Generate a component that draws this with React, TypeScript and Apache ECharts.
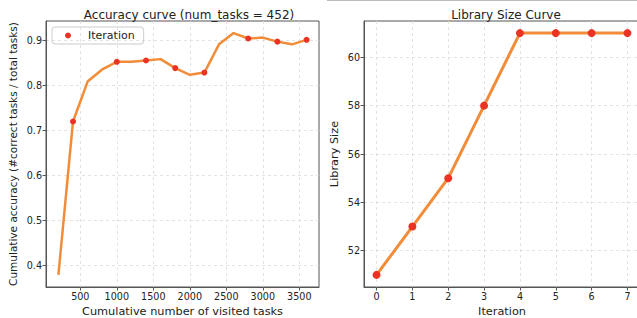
import React, { useEffect, useRef } from "react";
import * as echarts from "echarts";

const accX = [200, 400, 600, 800, 1000, 1200, 1400, 1600, 1800, 2000, 2200, 2400, 2600, 2800, 3000, 3200, 3400, 3600];
const accY = [0.378, 0.72, 0.809, 0.836, 0.853, 0.853, 0.856, 0.859, 0.839, 0.824, 0.829, 0.892, 0.917, 0.905, 0.907, 0.898, 0.892, 0.902];
const iterX = [400, 1000, 1400, 1800, 2200, 2800, 3200, 3600];
const iterY = [0.72, 0.853, 0.856, 0.839, 0.829, 0.905, 0.898, 0.902];
const accXTicks = [500, 1000, 1500, 2000, 2500, 3000, 3500];
const accYTicks = [0.4, 0.5, 0.6, 0.7, 0.8, 0.9];

const libIter = [0, 1, 2, 3, 4, 5, 6, 7];
const libSize = [51, 53, 55, 58, 61, 61, 61, 61];
const libYTicks = [52, 54, 56, 58, 60];

const FONT = "DejaVu Sans";
const LINE = "#f28c38";
const DOT = "#ea3323";
const SPINE = "#555";
const GRIDC = "#dcdcdc";

function axisCommon(ticks: number[], fmt?: (v: number) => string) {
  return {
    axisLine: { show: true, onZero: false, lineStyle: { color: SPINE, width: 1 } },
    axisTick: { show: true, customValues: ticks, length: 3.5, lineStyle: { color: SPINE } },
    axisLabel: {
      customValues: ticks,
      color: "#222",
      fontFamily: FONT,
      fontSize: 9.6,
      margin: 4,
      formatter: fmt,
    },
    splitLine: { show: true, lineStyle: { color: GRIDC, type: [3, 3], width: 0.8 } },
  };
}

export default function App() {
  const ref = useRef<HTMLDivElement>(null);
  useEffect(() => {
    document.body.style.margin = "0";
    const chart = echarts.init(ref.current!, null, { renderer: "svg" });
    chart.setOption({
      animation: false,
      backgroundColor: "#fff",
      title: [
        {
          text: "Accuracy curve (num_tasks = 452)",
          left: 184,
          top: 4,
          textAlign: "center",
          textStyle: { fontFamily: FONT, fontSize: 12, fontWeight: "normal", color: "#222" },
        },
        {
          text: "Library Size Curve",
          left: 501,
          top: 4,
          textAlign: "center",
          textStyle: { fontFamily: FONT, fontSize: 12, fontWeight: "normal", color: "#222" },
        },
      ],
      legend: {
        data: [{ name: "Iteration", icon: "circle" }],
        left: 52,
        top: 27,
        orient: "vertical",
        itemWidth: 6,
        itemHeight: 6,
        padding: [3, 9, 3, 13],
        borderColor: "#ccc",
        borderWidth: 1,
        borderRadius: 3,
        textStyle: { fontFamily: FONT, fontSize: 11, color: "#222", padding: [0, 0, 0, 12] },
      },
      grid: [
        { left: 46, top: 21, width: 273, height: 266, show: true, borderColor: SPINE, borderWidth: 1, outerBoundsMode: "none", containLabel: false },
        { left: 364, top: 21, width: 276, height: 266, show: true, borderColor: SPINE, borderWidth: 1, outerBoundsMode: "none", containLabel: false },
      ],
      xAxis: [
        {
          type: "value",
          gridIndex: 0,
          min: 30,
          max: 3770,
          name: "Cumulative number of visited tasks",
          nameLocation: "middle",
          nameGap: 16,
          nameTextStyle: { fontFamily: FONT, fontSize: 11.3, color: "#222", verticalAlign: "top" },
          ...axisCommon(accXTicks, (v: number) => String(v)),
        },
        {
          type: "value",
          gridIndex: 1,
          min: -0.35,
          max: 7.35,
          name: "Iteration",
          nameLocation: "middle",
          nameGap: 16,
          nameTextStyle: { fontFamily: FONT, fontSize: 11.3, color: "#222", verticalAlign: "top" },
          ...axisCommon(libIter, (v: number) => String(v)),
        },
      ],
      yAxis: [
        {
          type: "value",
          gridIndex: 0,
          min: 0.351,
          max: 0.944,
          name: "Cumulative accuracy (#correct tasks / total tasks)",
          nameLocation: "middle",
          nameGap: 28,
          nameTextStyle: { fontFamily: FONT, fontSize: 10.5, color: "#222" },
          ...axisCommon(accYTicks, (v: number) => v.toFixed(1)),
        },
        {
          type: "value",
          gridIndex: 1,
          min: 50.5,
          max: 61.5,
          name: "Library Size",
          nameLocation: "middle",
          nameGap: 24,
          nameTextStyle: { fontFamily: FONT, fontSize: 11.3, color: "#222" },
          ...axisCommon(libYTicks, (v: number) => String(v)),
        },
      ],
      series: [
        {
          type: "line",
          xAxisIndex: 0,
          yAxisIndex: 0,
          data: accX.map((x, i) => [x, accY[i]]),
          showSymbol: false,
          lineStyle: { color: LINE, width: 2.5 },
          itemStyle: { color: LINE },
          z: 2,
        },
        {
          name: "Iteration",
          type: "scatter",
          xAxisIndex: 0,
          yAxisIndex: 0,
          data: iterX.map((x, i) => [x, iterY[i]]),
          symbolSize: 6,
          itemStyle: { color: DOT, opacity: 1 },
          z: 3,
        },
        {
          type: "line",
          xAxisIndex: 1,
          yAxisIndex: 1,
          data: libIter.map((x, i) => [x, libSize[i]]),
          showSymbol: false,
          lineStyle: { color: LINE, width: 3 },
          z: 2,
        },
        {
          type: "scatter",
          xAxisIndex: 1,
          yAxisIndex: 1,
          data: libIter.map((x, i) => [x, libSize[i]]),
          symbolSize: 8,
          itemStyle: { color: DOT, opacity: 1 },
          z: 3,
        },
      ],
      graphic: [
        {
          type: "line",
          shape: { x1: 327, y1: 0.5, x2: 637, y2: 0.5 },
          style: { stroke: "#bbb", lineWidth: 1 },
        },
      ],
    });
    return () => chart.dispose();
  }, []);
  return <div ref={ref} style={{ width: 637, height: 318 }} />;
}
